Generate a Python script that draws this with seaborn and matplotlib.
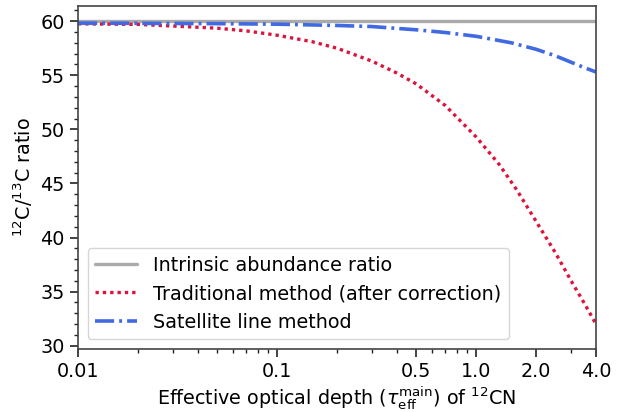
import matplotlib
matplotlib.use("Agg")
import matplotlib.pyplot as plt
import matplotlib.ticker as mticker
import numpy as np
import pandas as pd
import seaborn as sns

# Effective optical depth of the main 12CN component
tau_trad = [0.01, 0.02, 0.03, 0.05, 0.07, 0.1, 0.15, 0.2, 0.3, 0.4, 0.5,
            0.7, 1.0, 1.3, 1.6, 2.0, 2.5, 3.0, 3.5, 4.0]
ratio_trad = [59.75, 59.7, 59.55, 59.35, 59.1, 58.7, 58.1, 57.5, 56.3, 55.2, 54.2,
              52.2, 49.3, 46.8, 44.4, 41.5, 38.6, 36.0, 33.9, 32.0]

tau_sat = [0.01, 0.02, 0.05, 0.1, 0.2, 0.3, 0.5, 0.7, 1.0, 1.5, 2.0, 2.5, 3.0, 3.5, 4.0]
ratio_sat = [59.82, 59.8, 59.77, 59.72, 59.6, 59.5, 59.2, 58.95, 58.6, 58.0, 57.4,
             56.8, 56.2, 55.7, 55.3]

tau_true = [0.01, 4.0]
ratio_true = [60.0, 60.0]

xtick_vals = [0.01, 0.1, 0.5, 1.0, 2.0, 4.0]
xtick_labels = ["0.01", "0.1", "0.5", "1.0", "2.0", "4.0"]
ytick_vals = [30, 35, 40, 45, 50, 55, 60]

sns.set_theme(style="ticks")
plt.rcParams["font.family"] = ["DejaVu Sans"]
plt.rcParams["mathtext.fontset"] = "dejavusans"
plt.rcParams["text.color"] = "black"
plt.rcParams["axes.labelcolor"] = "black"
plt.rcParams["xtick.color"] = "#222222"
plt.rcParams["ytick.color"] = "#222222"
plt.rcParams["xtick.labelcolor"] = "black"
plt.rcParams["ytick.labelcolor"] = "black"

FS = 13.8

fig = plt.figure(figsize=(6.27, 4.12), dpi=100)
ax = fig.add_axes([78 / 627, 1 - 349 / 412, (596 - 78) / 627, (349 - 6) / 412])

sns.lineplot(x=tau_true, y=ratio_true, ax=ax, color="#aaaaaa", lw=2.4,
             label="Intrinsic abundance ratio")
sns.lineplot(x=tau_trad, y=ratio_trad, ax=ax, color="crimson", lw=2.4,
             dashes=(1, 1.2), label="Traditional method (after correction)")
sns.lineplot(x=tau_sat, y=ratio_sat, ax=ax, color="royalblue", lw=2.6,
             dashes=(5.3, 1.4, 0.8, 1.4), label="Satellite line method")

ax.set_xscale("log")
ax.set_xlim(0.01, 4.0)
ax.set_ylim(29.7, 61.4)
ax.set_xticks(xtick_vals)
ax.set_xticklabels(xtick_labels)
ax.xaxis.set_minor_locator(mticker.LogLocator(base=10, subs=np.arange(2, 10)))
ax.xaxis.set_minor_formatter(mticker.NullFormatter())
ax.set_yticks(ytick_vals)
ax.yaxis.set_minor_locator(mticker.MultipleLocator(1))

ax.tick_params(which="major", length=6, width=1.2, labelsize=FS)
ax.tick_params(which="minor", length=3, width=1.0)
for sp in ax.spines.values():
    sp.set_color("#444444")
    sp.set_linewidth(1.2)

ax.set_xlabel(r"Effective optical depth ($\tau_{\rm eff}^{\rm main}$) of $^{12}$CN",
              fontsize=FS, labelpad=2)
ax.set_ylabel(r"$^{12}$C/$^{13}$C ratio", fontsize=FS, labelpad=4)

ax.legend(loc="lower left", fontsize=FS, handlelength=2.2, frameon=True,
          borderaxespad=0.5, labelspacing=0.5)

fig.savefig("out.png", dpi=100)
